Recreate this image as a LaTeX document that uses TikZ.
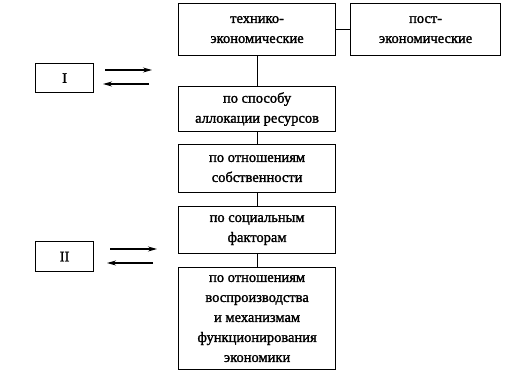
\documentclass[tikz,border=0pt]{standalone}
\usepackage{fontspec}
\setmainfont{Liberation Serif}[FakeBold=1.6,AutoFakeBold=1.6]
\usetikzlibrary{arrows.meta}
\begin{document}
\begin{tikzpicture}[x=1pt,y=-1pt,
  box/.style={draw,line width=1.2pt,inner sep=0pt,anchor=north west},
  txt/.style={font=\bfseries\fontsize{14.5}{20}\selectfont,align=center},
  arr/.style={line width=1.1pt,-{Stealth[length=9pt,width=5pt]}},
  lnk/.style={line width=1.1pt}]
\useasboundingbox (0,0) rectangle (505,386);
\node[box,minimum width=157pt,minimum height=52pt] (b1) at (178,3) {};
\node[txt] at (b1.center) {технико-\\экономические};
\node[box,minimum width=150pt,minimum height=52pt] (b0) at (350,3) {};
\node[txt] at (b0.center) {пост-\\экономические};
\node[box,minimum width=157pt,minimum height=45pt] (b2) at (178,86) {};
\node[txt] at (b2.center) {по способу\\аллокации ресурсов};
\node[box,minimum width=157pt,minimum height=48pt] (b3) at (178,144) {};
\node[txt] at (b3.center) {по отношениям\\собственности};
\node[box,minimum width=157pt,minimum height=47pt] (b4) at (178,206) {};
\node[txt] at (b4.center) {по социальным\\факторам};
\node[box,minimum width=157pt,minimum height=102pt] (b5) at (178,267) {};
\node[txt] at (b5.center) {по отношениям\\воспроизводства\\и механизмам\\функционирования\\экономики};
\node[box,minimum width=58pt,minimum height=29pt] (i) at (35,63) {};
\node[txt] at (i.center) {I};
\node[box,minimum width=58pt,minimum height=30pt] (ii) at (35,241) {};
\node[txt] at (ii.center) {II};
\coordinate (a1s) at (105,70); \coordinate (a1e) at (152,70);
\coordinate (a2s) at (149,84); \coordinate (a2e) at (103,84);
\coordinate (a3s) at (110,249); \coordinate (a3e) at (157,249);
\coordinate (a4s) at (153,263); \coordinate (a4e) at (107,263);
\draw[arr] (a1s) -- (a1e);
\draw[arr] (a2s) -- (a2e);
\draw[arr] (a3s) -- (a3e);
\draw[arr] (a4s) -- (a4e);
\draw[lnk] (b1.east) -- (b0.west);
\draw[lnk] (b1.south) -- (b2.north);
\draw[lnk] (b2.south) -- (b3.north);
\draw[lnk] (b3.south) -- (b4.north);
\draw[lnk] (b4.south) -- (b5.north);
\end{tikzpicture}
\end{document}
